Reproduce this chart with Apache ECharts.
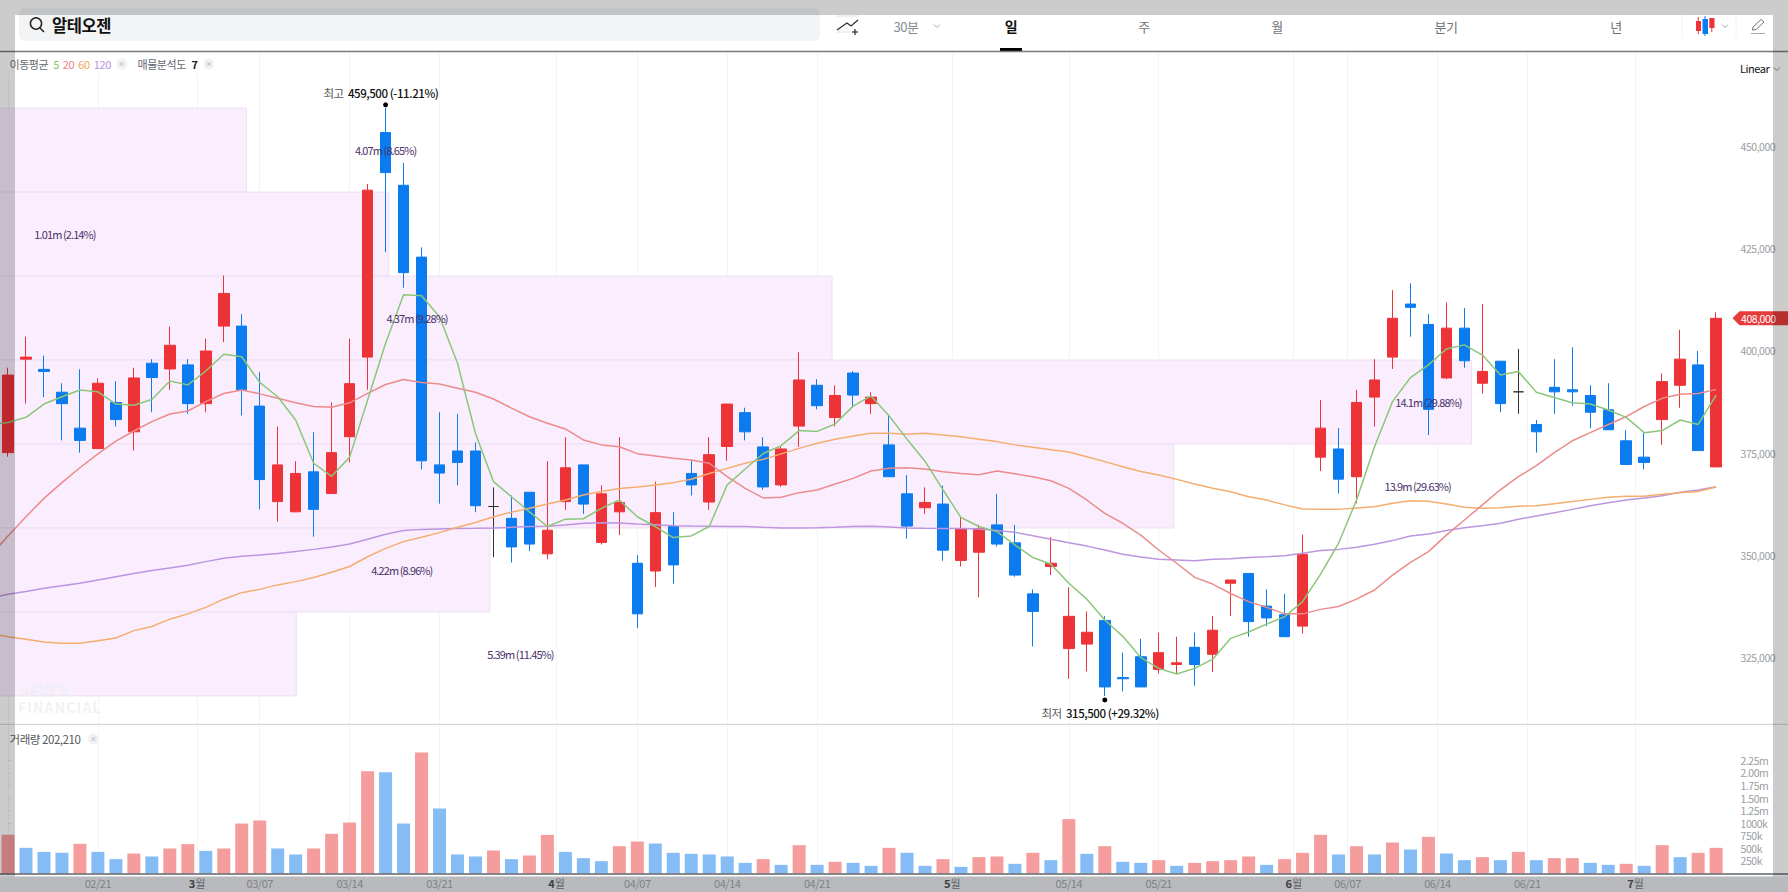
<!DOCTYPE html>
<html>
<head>
<meta charset="utf-8">
<title>알테오젠</title>
<script src="https://cdn.jsdelivr.net/npm/echarts@6/dist/echarts.min.js"></script>
<style>
    html, body { margin: 0; padding: 0; background: #fff; overflow: hidden; }
    #chart { width: 1788px; height: 892px; }
    #chart text { letter-spacing: -0.45px; }
    #chart text[fill="#4b3068"] { letter-spacing: -0.9px; }
    #chart text[fill="#eceef1"] { letter-spacing: 1.1px; }
</style>
</head>
<body>
<div id="chart"></div>
<script>
// 일봉 (가격 단위: 원)
var candleOpen = [375100,398000,395500,389900,381100,376100,387400,380200,397000,395600,
    396600,387100,406100,406100,386500,363100,360600,370400,365100,379000,
    398500,453500,440600,423000,372100,375500,375500,361900,359000,365400,
    350300,363100,372100,353100,360600,348000,346100,357000,370000,363000,
    376600,384900,376500,367200,381600,391600,383700,394600,387100,377000,
    365000,361600,362500,348700,350700,357400,353000,340500,347200,327100,
    328200,334000,320000,325100,322000,323200,327400,325700,343100,345500,
    337500,335400,332600,374000,376000,369200,388700,398500,411500,406500,
    393400,405600,392100,397500,390000,382000,391100,390500,389100,385600,
    378000,374000,383200,391600,396600,371600];
var candleClose = [394100,398500,395000,387100,378100,392100,383200,393400,393500,401400,
    387100,400000,414100,390500,368500,372100,370000,361200,375100,392000,
    439400,443700,419200,373100,370100,372700,362100,361900,352000,352700,
    356100,371400,362500,365000,362900,335600,360400,347600,367200,374600,
    387000,380200,366700,376000,392900,386600,389100,389200,388700,369200,
    357100,362900,351200,356500,356500,352700,345100,336200,348000,335000,
    331100,317700,319700,317700,326100,323600,323200,331600,343900,333700,
    334600,330000,350200,381100,368600,387400,392900,408000,410700,385700,
    405600,397600,395000,387100,390000,380200,390000,390000,385000,380700,
    372200,372700,392500,398000,375600,408000];
var candleLow = [374100,387100,388700,378100,375100,376000,381500,375600,385000,390500,
    384600,385000,402200,384200,361200,358200,360500,354500,365000,372700,
    390500,424200,415500,371000,362600,367100,360500,349500,348200,351000,
    349000,361100,360100,352600,354900,332100,342200,343000,364600,361100,
    373100,378100,366000,366700,376500,385700,381500,386100,384600,369200,
    354000,360100,348600,347200,339700,352100,344700,327600,345100,319700,
    321500,315500,316600,317700,321000,321000,318000,321400,335100,330000,
    332600,330000,330800,370600,365100,362700,381500,395600,403500,379400,
    393100,395900,389600,385000,384600,375100,384600,386600,381100,380700,
    372200,371000,377000,386100,375600,371600];
var candleHigh = [395900,403500,398900,392100,395500,393300,392600,395900,398000,406000,
    398000,403000,418500,409000,394800,381500,373000,380100,387400,403000,
    440900,459500,446100,425400,385000,384600,377600,366600,364600,365400,
    373000,378900,372100,367100,378900,350000,368000,360500,373300,378900,
    387000,386100,378900,376500,399700,393100,391600,395100,389900,384200,
    369600,366600,367000,359200,357400,365000,357400,341600,354400,342100,
    336200,335000,326100,329500,331000,330000,331000,335100,343900,345500,
    341600,340500,355000,388000,381100,390500,398000,414900,416600,409000,
    411900,410500,411500,397500,400500,383100,398000,400900,391600,392100,
    380600,380100,394500,405200,400000,409500];

// 이동평균 (맨 앞 값은 화면 왼쪽 밖의 봉, 번호 -1)
var ma5 = [381900,382500,383750,387000,388800,390450,390000,387000,386700,388100,392650,
    391700,395100,399200,398600,392300,388800,383100,372500,369300,374000,
    388000,401900,413800,413550,408400,397000,379800,368000,364300,360600,
    357000,358800,358900,361450,363500,359400,357000,354300,354700,357000,
    367200,371100,374900,376800,380500,380300,382100,386500,389000,384150,
    378400,373000,366000,359200,357000,355750,352500,349400,347750,343100,
    339200,334100,330100,324900,322250,320850,322250,324500,329600,331150,
    333100,334900,338600,345350,352900,363500,376550,387600,393500,396600,
    400500,401500,399000,394100,395000,389900,388600,387300,387000,385550,
    383750,380000,380500,383100,382000,389200];
var ma20 = [349800,354700,359400,363900,367750,371400,374800,377900,380400,382700,384550,
    385300,387600,389600,390450,389500,388400,387300,386400,386200,387300,
    389600,391800,393000,392300,391900,390850,389900,388250,386000,383900,
    382300,380900,378200,377000,376550,374850,374300,373700,373300,372500,
    369200,366350,364000,364150,365300,365950,367400,368800,370600,371300,
    371400,371100,370400,370000,369700,370600,369900,369200,368200,366350,
    363500,360200,357800,354900,351250,348000,344550,342900,340600,338600,
    337200,335600,335600,336700,337400,339200,341450,345100,348200,350850,
    354900,358600,362300,366000,369200,371900,375100,378000,380000,382000,
    383900,386400,388400,389400,389600,390600];
var ma60 = [330800,330000,329400,328700,328400,328400,329000,329700,331500,332500,334300,
    335600,337200,339200,340800,341600,342700,343500,344500,345800,347200,
    349600,351650,353300,354350,355500,356800,358000,359400,360500,361450,
    362500,363500,364700,365600,366300,366700,367200,367750,368600,370000,
    371250,372500,373450,374800,376150,377400,378400,379200,379850,379850,
    379600,379850,379400,379000,378400,377800,377000,376400,375800,375250,
    374100,372900,371650,370500,369600,368550,367400,366350,365500,364300,
    363500,362300,361300,361200,361200,361550,361850,362700,363300,363200,
    362500,361700,361450,361600,361950,362100,362600,363100,363650,364150,
    364400,364400,364900,365300,365600,366700];
var ma120 = [339500,340400,341100,341850,342500,343100,343900,344700,345500,346200,346850,
    347500,348400,349200,349700,350000,350400,350900,351400,352000,352700,
    353900,355100,356000,356300,356400,356500,356550,356650,356800,357000,
    357050,357400,357800,357950,357850,357600,357450,357200,357100,357050,
    357000,357000,356800,356650,356650,356700,356800,357000,357050,356900,
    356650,356550,356500,356500,356400,356000,355600,354750,353900,353000,
    352200,351250,350200,349550,349000,348800,348600,349000,349100,349400,
    349600,349850,350450,351100,351400,351900,352650,353550,354700,355150,
    356000,356700,357200,357800,358800,359600,360400,361200,362100,362850,
    363500,364000,364550,365400,365950,366750];

// 거래량
var volume = [768000,510000,430000,411000,589000,430000,285000,397000,338000,497000,
    583000,450000,497000,993000,1053000,497000,378000,497000,788000,1013000,
    2033000,2013000,993000,2404000,1291000,378000,338000,457000,285000,358000,
    768000,430000,305000,245000,543000,636000,596000,411000,391000,378000,
    338000,212000,285000,172000,563000,172000,232000,212000,152000,510000,
    411000,152000,285000,132000,325000,338000,192000,411000,265000,1080000,
    391000,543000,232000,212000,265000,152000,212000,245000,265000,338000,
    172000,285000,411000,768000,378000,543000,378000,616000,477000,729000,
    397000,265000,325000,265000,430000,265000,305000,305000,212000,172000,
    192000,152000,563000,325000,411000,510000];
var volumeUp = [1,0,0,0,1,0,0,1,0,1,1,0,1,1,1,0,0,1,1,1,1,0,0,1,0,0,0,1,0,1,1,0,
    0,0,1,1,0,0,0,0,0,0,1,0,1,0,1,0,0,1,0,0,1,0,1,1,0,1,0,1,0,1,0,0,1,0,
    1,1,1,1,0,1,1,1,0,1,0,1,0,1,0,0,1,0,1,0,1,1,0,0,1,0,1,0,1,1];

// 시간축 눈금 (봉 번호 기준, 월 경계는 봉 사이)
var timeTicks = [5,10.5,14,19,24,30.5,35,40,45,52.5,59,64,71.5,74.5,79.5,84.5,90.5];
var timeLabels = ['02/21','3월','03/07','03/14','03/21','4월','04/07','04/14','04/21','5월',
    '05/14','05/21','6월','06/07','06/14','06/21','7월'];

var priceTicks = [325000,350000,375000,400000,425000,450000];
var volumeTicks = [250000,500000,750000,1000000,1250000,1500000,1750000,2000000,2250000];
var volumeTickLabels = ['250k','500k','750k','1000k','1.25m','1.50m','1.75m','2.00m','2.25m'];

// 매물분석도 (위쪽 구간부터)
var profileEdges = [459500,438929,418357,397786,377214,356643,336071,315500];
var profileEnd = [13.26,21.18,45.83,81.4,64.83,26.8,16.03];
var profileLabelAt = [21,3.17,22.75,79,78.4,21.9,28.5];
var profileLabels = ['4.07m (8.65%)','1.01m (2.14%)','4.37m (9.28%)','14.1m (29.88%)','13.9m (29.63%)','4.22m (8.96%)','5.39m (11.45%)'];

var highPoint = [21,459500];
var lowPoint = [61,315500];
var lastPrice = 408000;

var X_MIN = -0.445, X_MAX = 95.91;
var FONT = '"Noto Sans CJK KR","Noto Sans",sans-serif';
var RED = '#ee3338', BLUE = '#0b7bf0';

var candleData = [], volumeData = [];
for (var i = 0; i < candleOpen.length; i++) {
    candleData.push([i, candleOpen[i], candleClose[i], candleLow[i], candleHigh[i]]);
    volumeData.push({value: [i, volume[i]], itemStyle: {color: volumeUp[i] ? '#f59c9c' : '#85bcf6'}});
}

function toLine(list) {
    return list.map(function (v, idx) { return [idx - 1, v]; });
}

function maSeries(name, list, color) {
    return {
        name: name, type: 'line', data: toLine(list), xAxisIndex: 0, yAxisIndex: 0,
        showSymbol: false, silent: true, z: 4,
        lineStyle: {color: color, width: 1.5}
    };
}

// 헤더 도형
function text(str, x, y, fill, size, weight, align) {
    return {
        type: 'text', x: x, y: y, z: 20,
        style: {text: str, fill: fill, fontFamily: FONT, fontSize: size, fontWeight: weight || 'normal',
            textAlign: align || 'center', textVerticalAlign: 'middle'}
    };
}
function line(x1, y1, x2, y2, color, w, z) {
    return {type: 'line', z: z || 20, shape: {x1: x1, y1: y1, x2: x2, y2: y2}, style: {stroke: color, lineWidth: w}};
}
function poly(points, color, w) {
    return {type: 'polyline', z: 20, shape: {points: points}, style: {stroke: color, lineWidth: w, fill: null}};
}
function rect(x, y, w, h, color, z, r) {
    return {type: 'rect', z: z, shape: {x: x, y: y, width: w, height: h, r: r || 0}, style: {fill: color}};
}
function chevron(cx, cy, color) {
    return poly([[cx - 3, cy - 1.5], [cx, cy + 1.5], [cx + 3, cy - 1.5]], color, 1);
}
function closeChip(cx, cy) {
    return [
        {type: 'circle', z: 20, shape: {cx: cx, cy: cy, r: 5.5}, style: {fill: '#f1f2f3'}},
        line(cx - 2, cy - 2, cx + 2, cy + 2, '#b5b8bc', 1),
        line(cx + 2, cy - 2, cx - 2, cy + 2, '#b5b8bc', 1)
    ];
}

var elements = [
    rect(0, 52, 230, 22, '#ffffff', 1),
    rect(19, 8, 801, 33, '#f3f4f6', 5, 6),
    {type: 'circle', z: 20, shape: {cx: 36, cy: 23.5, r: 5.6}, style: {stroke: '#222', lineWidth: 1.5, fill: null}},
    line(40, 28, 44, 32, '#222', 1.6),
    text('알테오젠', 52, 25, '#111', 16.5, 'bold', 'left'),
    poly([[837, 30], [847, 23], [851, 26], [858, 20]], '#333', 1.3),
    line(837, 16, 859, 16, '#dfe0e3', 1),
    line(837, 32, 851, 32, '#dfe0e3', 1),
    line(855, 29, 855, 35, '#333', 1.3),
    line(852, 32, 858, 32, '#333', 1.3),
    text('30분', 906, 26, '#868a90', 13),
    chevron(937, 26, '#a5a8ad'),
    text('일', 1011, 26, '#111', 14, 'bold'),
    rect(1000, 48, 22, 3.5, '#000', 21),
    text('주', 1144, 26, '#6e7278', 13),
    text('월', 1277, 26, '#6e7278', 13),
    text('분기', 1446, 26, '#6e7278', 13),
    text('년', 1616, 26, '#6e7278', 13),
    line(1682, 15, 1682, 39, '#f2f3f4', 1),
    line(1736, 15, 1736, 39, '#f2f3f4', 1),
    line(1698.3, 17, 1698.3, 34, RED, 1),
    rect(1696, 21, 5, 10, RED, 20),
    line(1705, 16, 1705, 36, BLUE, 1),
    rect(1702.5, 19, 5.5, 15, BLUE, 20),
    line(1711.8, 18, 1711.8, 32, RED, 1),
    rect(1709.3, 18, 5.2, 10, RED, 20),
    chevron(1725, 26, '#a5a8ad'),
    poly([[1752.5, 30], [1753, 27], [1761, 19.5], [1764, 22], [1756, 29.5], [1752.5, 30]], '#6f7277', 1),
    line(1751, 33.5, 1765, 33.5, '#a5a8ad', 1),
    line(0, 51.5, 1788, 51.5, '#7a7a7a', 1.6, 21),
    {
        type: 'text', x: 9.5, y: 64, z: 20,
        style: {
            text: '{a|이동평균} {g|5} {r|20} {o|60} {p|120}',
            textVerticalAlign: 'middle',
            rich: {
                a: {fill: '#66696e', fontSize: 11, fontFamily: FONT},
                g: {fill: '#7fc36b', fontSize: 11, fontFamily: FONT},
                r: {fill: '#ee7f7f', fontSize: 11, fontFamily: FONT},
                o: {fill: '#f2a65a', fontSize: 11, fontFamily: FONT},
                p: {fill: '#b794e0', fontSize: 11, fontFamily: FONT}
            }
        }
    },
    {
        type: 'text', x: 137.5, y: 64, z: 20,
        style: {
            text: '{a|매물분석도} {b|7}',
            textVerticalAlign: 'middle',
            rich: {
                a: {fill: '#66696e', fontSize: 11, fontFamily: FONT},
                b: {fill: '#222', fontSize: 11, fontWeight: 'bold', fontFamily: FONT}
            }
        }
    },
    text('Linear', 1740, 68, '#111', 11, 'normal', 'left'),
    chevron(1777, 69, '#8a8d92'),
    {type: 'text', x: 18, y: 690, z: 3, style: {text: 'NAVER', fill: '#eceef1', opacity: 0.75, fontFamily: FONT, fontSize: 14, fontWeight: 'bold', textVerticalAlign: 'middle'}},
    {type: 'text', x: 18, y: 706.5, z: 3, style: {text: 'FINANCIAL', fill: '#eceef1', opacity: 0.75, fontFamily: FONT, fontSize: 14, fontWeight: 'bold', textVerticalAlign: 'middle'}},
    line(0, 724.3, 1788, 724.3, '#d6d8db', 1.3, 21),
    text('거래량 202,210', 9.5, 739, '#55585d', 11.5, 'normal', 'left'),
    line(0, 874, 1788, 874, '#5f646b', 1.6, 21),
    rect(0, 876.5, 1788, 15.5, '#e6e9ee', -1),
    // 바깥쪽 어두운 테두리
    rect(0, 0, 15, 892, 'rgba(0,0,0,0.2)', 100),
    rect(15, 0, 1758, 15, 'rgba(0,0,0,0.2)', 100),
    rect(1773, 0, 15, 892, 'rgba(0,0,0,0.2)', 100),
    rect(15, 876.5, 1758, 15.5, 'rgba(0,0,0,0.2)', 100)
].concat(closeChip(121.7, 64), closeChip(208.6, 64), closeChip(93.4, 739));

var chart = echarts.init(document.getElementById('chart'), null, {renderer: 'svg'});

var option = {
    animation: false,
    backgroundColor: '#fff',
    textStyle: {fontFamily: FONT},
    graphic: {elements: elements},
    grid: [
        {left: 0, right: 55.5, top: 52, height: 672},
        {left: 0, right: 55.5, top: 724, bottom: 18.5}
    ],
    xAxis: [
        {
            type: 'value', gridIndex: 0, min: X_MIN, max: X_MAX,
            axisLine: {show: false}, axisLabel: {show: false},
            axisTick: {show: false, customValues: timeTicks},
            splitLine: {show: true, lineStyle: {color: '#f3f4f6', width: 1}}
        },
        {
            type: 'value', gridIndex: 1, min: X_MIN, max: X_MAX,
            axisLine: {show: false},
            axisTick: {show: false, customValues: timeTicks},
            splitLine: {show: true, lineStyle: {color: '#f3f4f6', width: 1}},
            axisLabel: {
                customValues: timeTicks, margin: 3.5, fontSize: 11, color: '#a0a3a8',
                formatter: function (v) {
                    var s = timeLabels[timeTicks.indexOf(v)];
                    if (s.indexOf('월') > 0) {
                        return '{m|' + s.replace('월', '') + '}{n|월}';
                    }
                    return s;
                },
                rich: {
                    m: {fontSize: 11, fontWeight: 'bold', color: '#4e5156', fontFamily: FONT},
                    n: {fontSize: 11, color: '#777a80', fontFamily: FONT}
                }
            }
        }
    ],
    yAxis: [
        {
            type: 'value', gridIndex: 0, position: 'right', min: 308620, max: 473250,
            splitLine: {show: false},
            axisLine: {show: true, lineStyle: {color: '#f1f2f4'}},
            axisTick: {show: true, length: 3, customValues: priceTicks, lineStyle: {color: '#e6e7ea'}},
            axisLabel: {
                customValues: priceTicks, margin: 8, fontSize: 10.5, color: '#9a9da2',
                formatter: function (v) { return v.toLocaleString('en-US'); }
            }
        },
        {
            type: 'value', gridIndex: 1, position: 'right', min: 0, max: 2971000,
            splitLine: {show: false},
            axisLine: {show: true, lineStyle: {color: '#f1f2f4'}},
            axisTick: {show: true, length: 3, customValues: volumeTicks, lineStyle: {color: '#e6e7ea'}},
            axisLabel: {
                customValues: volumeTicks, margin: 8, fontSize: 10.5, color: '#9a9da2',
                formatter: function (v) { return volumeTickLabels[volumeTicks.indexOf(v)]; }
            }
        }
    ],
    series: [
        {
            name: '매물분석도', type: 'custom', xAxisIndex: 0, yAxisIndex: 0, z: 1, silent: true,
            data: profileEnd.map(function (end, k) { return [end, profileEdges[k], profileEdges[k + 1]]; }),
            renderItem: function (params, api) {
                var a = api.coord([X_MIN, api.value(1)]);
                var b = api.coord([api.value(0), api.value(2)]);
                return {
                    type: 'rect',
                    shape: {x: a[0] - 2, y: a[1], width: b[0] - a[0] + 2, height: b[1] - a[1]},
                    style: {fill: '#faeefe', stroke: '#eddff5', lineWidth: 1}
                };
            }
        },
        {
            name: '일봉', type: 'candlestick', xAxisIndex: 0, yAxisIndex: 0, z: 3, silent: true,
            data: candleData, barWidth: 11,
            itemStyle: {
                color: RED, color0: BLUE, borderColor: RED, borderColor0: BLUE,
                borderColorDoji: '#333', borderWidth: 1
            }
        },
        maSeries('120', ma120, '#bd95de'),
        maSeries('60', ma60, '#f5ad6e'),
        maSeries('20', ma20, '#ec8b8b'),
        maSeries('5', ma5, '#8cc67a'),
        {
            name: '매물분석도 라벨', type: 'custom', xAxisIndex: 0, yAxisIndex: 0, z: 6, silent: true,
            data: profileLabelAt.map(function (at, k) { return [at, (profileEdges[k] + profileEdges[k + 1]) / 2, k]; }),
            renderItem: function (params, api) {
                var p = api.coord([api.value(0), api.value(1)]);
                return {
                    type: 'text',
                    style: {
                        x: p[0], y: p[1], text: profileLabels[api.value(2)], fill: '#4b3068',
                        fontSize: 11, fontFamily: FONT, align: 'center', verticalAlign: 'middle'
                    }
                };
            }
        },
        {
            name: '최고최저', type: 'scatter', xAxisIndex: 0, yAxisIndex: 0, z: 6, silent: true,
            symbolSize: 5, itemStyle: {color: '#000', opacity: 1},
            data: [
                {
                    value: highPoint, symbolOffset: [0, -3.3],
                    label: {show: true, position: 'inside', offset: [-3, -12], formatter: '{n|최고}{b|459,500 (-11.21%)}'}
                },
                {
                    value: lowPoint, symbolOffset: [0, 4],
                    label: {show: true, position: 'inside', offset: [-3, 13], formatter: '{n|최저}{b|315,500 (+29.32%)}'}
                }
            ],
            label: {
                rich: {
                    n: {fontSize: 11.5, color: '#55585d', fontFamily: FONT},
                    b: {fontSize: 11.5, color: '#111', fontWeight: 500, fontFamily: FONT}
                }
            }
        },
        {
            name: '현재가', type: 'custom', xAxisIndex: 0, yAxisIndex: 0, z: 10, silent: true,
            data: [[X_MAX, lastPrice]],
            renderItem: function (params, api) {
                var p = api.coord([api.value(0), api.value(1)]);
                var w = api.getWidth();
                return {
                    type: 'group',
                    children: [
                        {
                            type: 'polygon',
                            shape: {points: [[p[0], p[1]], [p[0] + 7, p[1] - 7], [w, p[1] - 7], [w, p[1] + 7], [p[0] + 7, p[1] + 7]]},
                            style: {fill: '#e63b3b'}
                        },
                        {
                            type: 'text',
                            style: {
                                x: p[0] + 8.5, y: p[1], text: api.value(1).toLocaleString('en-US'), fill: '#fff',
                                fontSize: 10.5, fontFamily: FONT, align: 'left', verticalAlign: 'middle'
                            }
                        }
                    ]
                };
            }
        },
        {
            name: '거래량', type: 'bar', xAxisIndex: 1, yAxisIndex: 1, z: 3, silent: true,
            data: volumeData, barWidth: 13
        }
    ]
};
chart.setOption(option);
</script>
</body>
</html>
